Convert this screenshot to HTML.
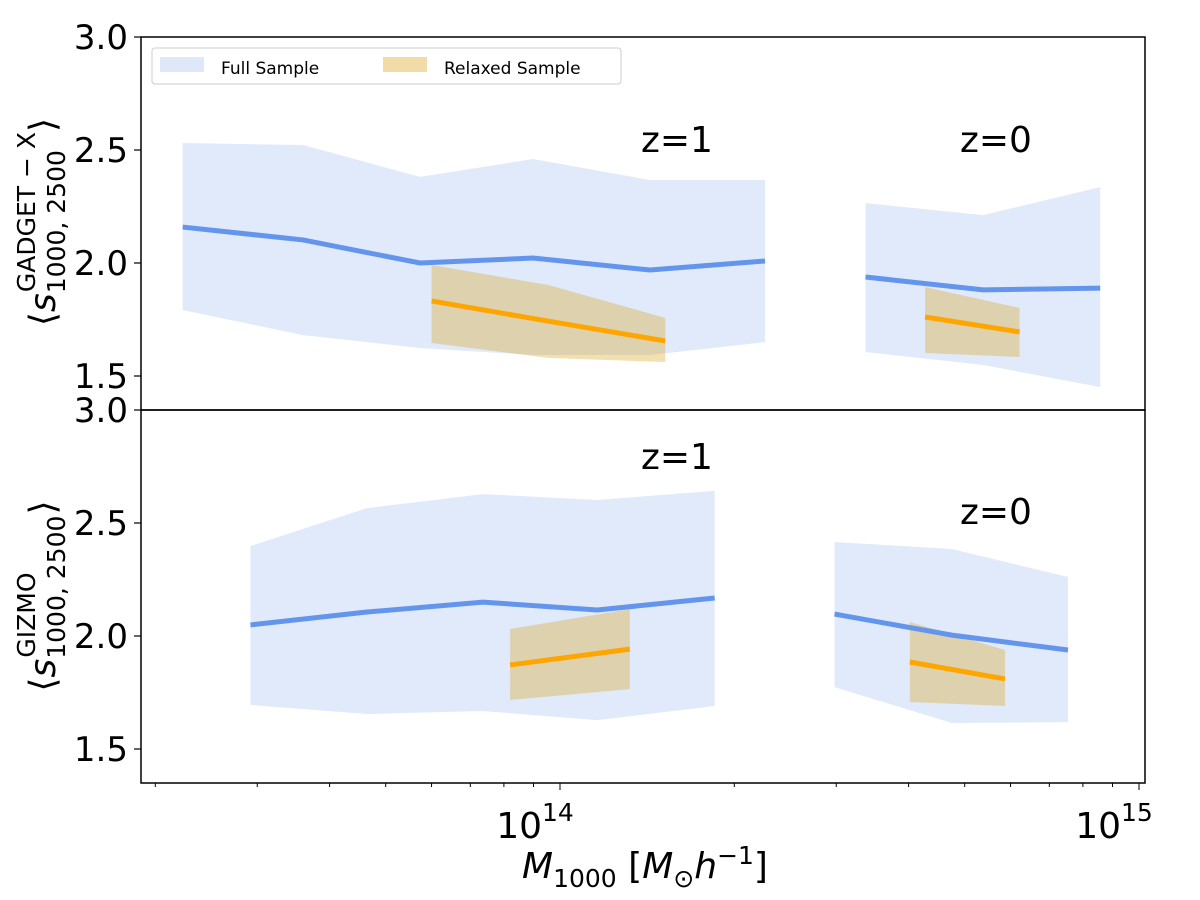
<!DOCTYPE html>
<html><head><meta charset="utf-8"><style>
body{margin:0;background:#fff;}
svg text{font-family:"DejaVu Sans","Liberation Sans",sans-serif;fill:#000;}
</style></head><body>
<svg id="chart" width="1200" height="895" viewBox="0 0 1200 895" xmlns="http://www.w3.org/2000/svg">
<g id="bands"></g><g id="lines"></g><g id="axes"></g>
</svg>
<script>
// data: masses (M_sun/h), values
const topZ1Mass=[2.23e13,3.6e13,5.73e13,8.98e13,1.43e14,2.26e14];
const topZ1Mean=[2.159,2.102,2.0,2.022,1.969,2.009];
const topZ1Hi=[2.531,2.522,2.381,2.46,2.367,2.367];
const topZ1Lo=[1.792,1.681,1.624,1.593,1.593,1.65];
const topZ1RelMass=[6.0e13,9.53e13,1.52e14];
const topZ1RelMean=[1.832,1.743,1.655];
const topZ1RelHi=[1.991,1.903,1.757];
const topZ1RelLo=[1.646,1.580,1.562];
const topZ0Mass=[3.37e14,5.38e14,8.57e14];
const topZ0Mean=[1.938,1.881,1.889];
const topZ0Hi=[2.265,2.212,2.336];
const topZ0Lo=[1.606,1.549,1.451];
const topZ0RelMass=[4.27e14,6.22e14];
const topZ0RelMean=[1.761,1.695];
const topZ0RelHi=[1.894,1.801];
const topZ0RelLo=[1.602,1.584];
const botZ1Mass=[2.92e13,4.64e13,7.36e13,1.16e14,1.85e14];
const botZ1Mean=[2.049,2.106,2.150,2.115,2.168];
const botZ1Hi=[2.398,2.566,2.628,2.602,2.642];
const botZ1Lo=[1.695,1.655,1.668,1.628,1.690];
const botZ1RelMass=[8.2e13,1.32e14];
const botZ1RelMean=[1.872,1.942];
const botZ1RelHi=[2.031,2.119];
const botZ1RelLo=[1.717,1.765];
const botZ0Mass=[2.98e14,4.75e14,7.54e14];
const botZ0Mean=[2.097,2.004,1.938];
const botZ0Hi=[2.416,2.385,2.261];
const botZ0Lo=[1.774,1.615,1.619];
const botZ0RelMass=[4.02e14,5.87e14];
const botZ0RelMean=[1.885,1.810];
const botZ0RelHi=[2.062,1.938];
const botZ0RelLo=[1.708,1.690];
const yTicks=[1.5,2.0,2.5,3.0];
const yTickLabels=["1.5","2.0","2.5","3.0"];

const NS="http://www.w3.org/2000/svg";
const L=141,R=1145;
function xs(m){return 560+(Math.log10(m)-14)*579;}
function ysTop(v){return 37+(3-v)*226;}
function ysBot(v){return 410+(3-v)*226;}
function mk(tag,attrs,parent){const e=document.createElementNS(NS,tag);for(const k in attrs)e.setAttribute(k,attrs[k]);document.getElementById(parent).appendChild(e);return e;}
function band(m,hi,lo,ys,fill,name){
  let p=m.map((v,i)=>xs(v)+","+ys(hi[i]));
  for(let i=m.length-1;i>=0;i--)p.push(xs(m[i])+","+ys(lo[i]));
  const e=mk('polygon',{points:p.join(' '),fill:fill},'bands');
  
  
}
function line(m,v,ys,col,name){
  const e=mk('polyline',{points:m.map((x,i)=>xs(x)+","+ys(v[i])).join(' '),fill:'none',stroke:col,'stroke-width':5},'lines');
  
  
}
const BF="rgba(100,149,237,0.2)",OF="rgba(218,165,32,0.35)";
band(topZ1Mass,topZ1Hi,topZ1Lo,ysTop,BF,'top-z1-full-band');
band(topZ0Mass,topZ0Hi,topZ0Lo,ysTop,BF,'top-z0-full-band');
band(botZ1Mass,botZ1Hi,botZ1Lo,ysBot,BF,'bottom-z1-full-band');
band(botZ0Mass,botZ0Hi,botZ0Lo,ysBot,BF,'bottom-z0-full-band');
band(topZ1RelMass,topZ1RelHi,topZ1RelLo,ysTop,OF,'top-z1-relaxed-band');
band(topZ0RelMass,topZ0RelHi,topZ0RelLo,ysTop,OF,'top-z0-relaxed-band');
band(botZ1RelMass,botZ1RelHi,botZ1RelLo,ysBot,OF,'bottom-z1-relaxed-band');
band(botZ0RelMass,botZ0RelHi,botZ0RelLo,ysBot,OF,'bottom-z0-relaxed-band');
line(topZ1Mass,topZ1Mean,ysTop,'#6495ed','top-z1-full-line');
line(topZ0Mass,topZ0Mean,ysTop,'#6495ed','top-z0-full-line');
line(botZ1Mass,botZ1Mean,ysBot,'#6495ed','bottom-z1-full-line');
line(botZ0Mass,botZ0Mean,ysBot,'#6495ed','bottom-z0-full-line');
line(topZ1RelMass,topZ1RelMean,ysTop,'#ffa500','top-z1-relaxed-line');
line(topZ0RelMass,topZ0RelMean,ysTop,'#ffa500','top-z0-relaxed-line');
line(botZ1RelMass,botZ1RelMean,ysBot,'#ffa500','bottom-z1-relaxed-line');
line(botZ0RelMass,botZ0RelMean,ysBot,'#ffa500','bottom-z0-relaxed-line');

let f=mk('rect',{x:L,y:37,width:R-L,height:373,fill:'none',stroke:'#000','stroke-width':1.5},'axes');


f=mk('rect',{x:L,y:410,width:R-L,height:373,fill:'none',stroke:'#000','stroke-width':1.5},'axes');


[ysTop,ysBot].forEach((ys,pi)=>{
  yTicks.forEach((t,i)=>{
    const y=ys(t);
    mk('line',{x1:L-7,x2:L,y1:y,y2:y,stroke:'#000','stroke-width':1.2},'axes');
    const tx=mk('text',{x:L-13,y:y+12,'text-anchor':'end','font-size':34},'axes');
    tx.textContent=yTickLabels[i];
    
    
  });
});
for(let d=13;d<=15;d++){for(let k=1;k<10;k++){const m=k*Math.pow(10,d);const x=xs(m);if(x<L||x>R)continue;
  mk('line',{x1:x,x2:x,y1:783,y2:783+(k==1?7:4),stroke:'#000','stroke-width':1},'axes');
  if(k==1){const tx=mk('text',{x:x-25,y:838,'text-anchor':'middle','font-size':36},'axes');
    tx.innerHTML='10<tspan dy="-17" font-size="25">'+d+'</tspan>';
    
    }
}}
</script>
<svg width="1200" height="895" style="position:absolute;left:0;top:0" xmlns="http://www.w3.org/2000/svg">
<g>
<rect x="152" y="48" width="469" height="36" rx="3" fill="#fff" fill-opacity="0.8" stroke="#ccc" stroke-width="1"/>
<rect x="160" y="57" width="44" height="15" fill="#dfe8f9"/>
<text x="221" y="74" font-size="17" style="font-family:'DejaVu Sans',sans-serif">Full Sample</text>
<rect x="383" y="57" width="44" height="15" fill="#f1dca8"/>
<text x="444" y="74" font-size="17" style="font-family:'DejaVu Sans',sans-serif">Relaxed Sample</text>
</g>
<g style="font-family:'DejaVu Sans',sans-serif" font-size="36">
<text x="641" y="152">z=1</text>
<text x="960" y="152">z=0</text>
<text x="641" y="469">z=1</text>
<text x="960" y="524">z=0</text>
</g>
<g transform="translate(55,222) rotate(-90)" style="font-family:'DejaVu Sans',sans-serif">
<text x="0" y="0" text-anchor="middle" font-size="36">⟨<tspan font-style="italic">s</tspan><tspan font-size="25" dy="10">1000, 2500</tspan><tspan font-size="25" dx="-142" dy="-30">GADGET − X</tspan><tspan dy="20">⟩</tspan></text>
</g>
<g transform="translate(55,596) rotate(-90)" style="font-family:'DejaVu Sans',sans-serif">
<text x="0" y="0" text-anchor="middle" font-size="36">⟨<tspan font-style="italic">s</tspan><tspan font-size="25" dy="10">1000, 2500</tspan><tspan font-size="25" dx="-142" dy="-30">GIZMO</tspan><tspan dx="58" dy="20">⟩</tspan></text>
</g>
<text x="645" y="878" text-anchor="middle" font-size="36" style="font-family:'DejaVu Sans',sans-serif"><tspan font-style="italic">M</tspan><tspan font-size="25" dy="9">1000</tspan><tspan dy="-9"> [</tspan><tspan font-style="italic">M</tspan><tspan font-size="25" dy="9">⊙</tspan><tspan font-style="italic" dy="-9">h</tspan><tspan font-size="25" dy="-14">−1</tspan><tspan dy="14">]</tspan></text>
</svg>
</body></html>
